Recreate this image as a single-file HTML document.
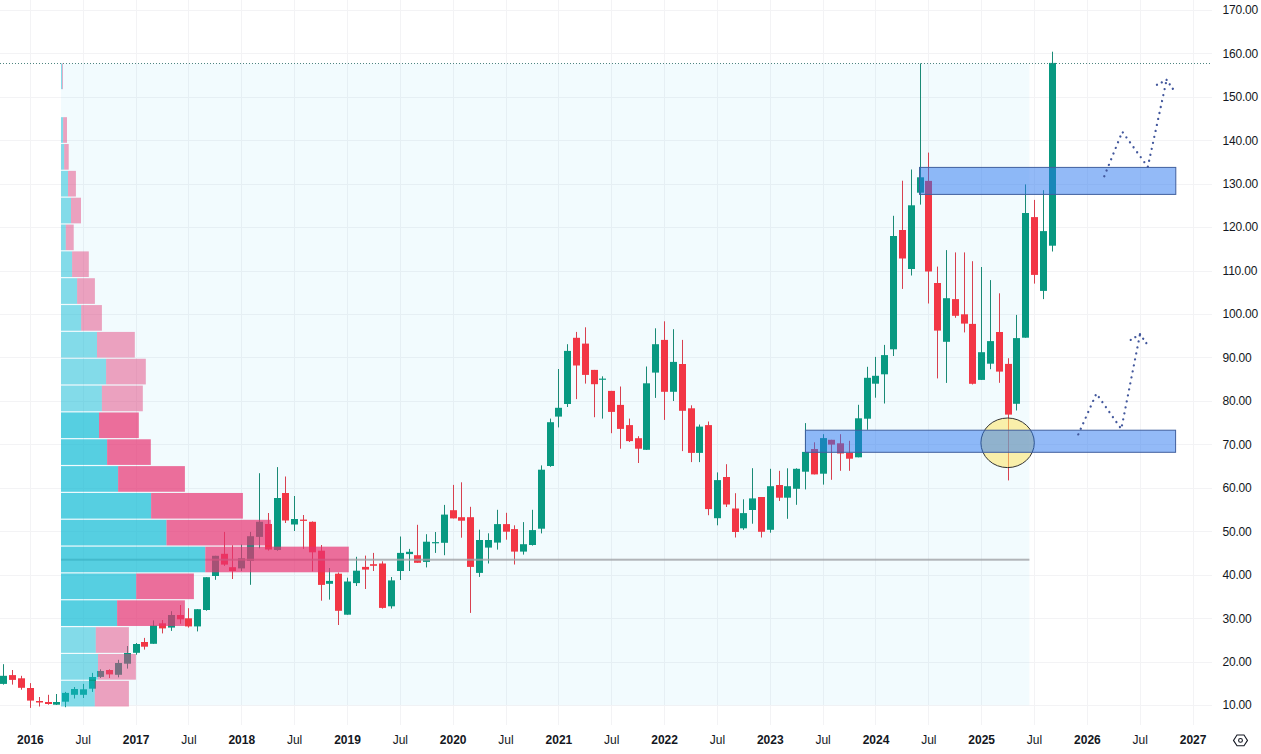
<!DOCTYPE html><html><head><meta charset="utf-8"><style>
html,body{margin:0;padding:0;background:#fff;width:1261px;height:754px;overflow:hidden}
svg{display:block}
text{font-family:"Liberation Sans",sans-serif;fill:#131722}
</style></head><body>
<svg width="1261" height="754" viewBox="0 0 1261 754">
<g stroke="#f3f3f5" stroke-width="1" shape-rendering="crispEdges">
<line x1="0" y1="10.5" x2="1212" y2="10.5"/>
<line x1="0" y1="53.5" x2="1212" y2="53.5"/>
<line x1="0" y1="97.5" x2="1212" y2="97.5"/>
<line x1="0" y1="140.5" x2="1212" y2="140.5"/>
<line x1="0" y1="184.5" x2="1212" y2="184.5"/>
<line x1="0" y1="227.5" x2="1212" y2="227.5"/>
<line x1="0" y1="271.5" x2="1212" y2="271.5"/>
<line x1="0" y1="314.5" x2="1212" y2="314.5"/>
<line x1="0" y1="357.5" x2="1212" y2="357.5"/>
<line x1="0" y1="401.5" x2="1212" y2="401.5"/>
<line x1="0" y1="444.5" x2="1212" y2="444.5"/>
<line x1="0" y1="488.5" x2="1212" y2="488.5"/>
<line x1="0" y1="531.5" x2="1212" y2="531.5"/>
<line x1="0" y1="575.5" x2="1212" y2="575.5"/>
<line x1="0" y1="618.5" x2="1212" y2="618.5"/>
<line x1="0" y1="662.5" x2="1212" y2="662.5"/>
<line x1="0" y1="705.5" x2="1212" y2="705.5"/>
<line x1="30.5" y1="0" x2="30.5" y2="725"/>
<line x1="83.5" y1="0" x2="83.5" y2="725"/>
<line x1="136.5" y1="0" x2="136.5" y2="725"/>
<line x1="188.5" y1="0" x2="188.5" y2="725"/>
<line x1="241.5" y1="0" x2="241.5" y2="725"/>
<line x1="294.5" y1="0" x2="294.5" y2="725"/>
<line x1="347.5" y1="0" x2="347.5" y2="725"/>
<line x1="400.5" y1="0" x2="400.5" y2="725"/>
<line x1="453.5" y1="0" x2="453.5" y2="725"/>
<line x1="506.5" y1="0" x2="506.5" y2="725"/>
<line x1="558.5" y1="0" x2="558.5" y2="725"/>
<line x1="611.5" y1="0" x2="611.5" y2="725"/>
<line x1="664.5" y1="0" x2="664.5" y2="725"/>
<line x1="717.5" y1="0" x2="717.5" y2="725"/>
<line x1="770.5" y1="0" x2="770.5" y2="725"/>
<line x1="823.5" y1="0" x2="823.5" y2="725"/>
<line x1="875.5" y1="0" x2="875.5" y2="725"/>
<line x1="928.5" y1="0" x2="928.5" y2="725"/>
<line x1="981.5" y1="0" x2="981.5" y2="725"/>
<line x1="1034.5" y1="0" x2="1034.5" y2="725"/>
<line x1="1087.5" y1="0" x2="1087.5" y2="725"/>
<line x1="1140.5" y1="0" x2="1140.5" y2="725"/>
<line x1="1193.5" y1="0" x2="1193.5" y2="725"/>
</g>
<rect x="61.0" y="63.5" width="968.4" height="641.8" fill="rgba(0,170,230,0.05)"/>
<g>
<rect x="3" y="664.2" width="1" height="20.4" fill="#1a8a76"/>
<rect x="0" y="675.8" width="7" height="8.1" fill="#089981"/>
<rect x="12" y="670.0" width="1" height="14.6" fill="#d8404f"/>
<rect x="9" y="675.1" width="7" height="4.8" fill="#f23645"/>
<rect x="21" y="675.8" width="1" height="13.9" fill="#d8404f"/>
<rect x="18" y="678.3" width="7" height="9.5" fill="#f23645"/>
<rect x="30" y="683.1" width="1" height="24.8" fill="#d8404f"/>
<rect x="27" y="688.0" width="7" height="12.6" fill="#f23645"/>
<rect x="39" y="697.0" width="1" height="9.5" fill="#d8404f"/>
<rect x="36" y="701.0" width="7" height="1.5" fill="#f23645"/>
<rect x="48" y="694.8" width="1" height="9.9" fill="#d8404f"/>
<rect x="45" y="702.0" width="7" height="2.0" fill="#f23645"/>
<rect x="56" y="694.0" width="1" height="11.0" fill="#1a8a76"/>
<rect x="53" y="702.0" width="7" height="2.7" fill="#089981"/>
<rect x="65" y="691.9" width="1" height="15.3" fill="#1a8a76"/>
<rect x="62" y="692.9" width="7" height="8.8" fill="#089981"/>
<rect x="74" y="687.0" width="1" height="11.5" fill="#1a8a76"/>
<rect x="71" y="689.0" width="7" height="5.8" fill="#089981"/>
<rect x="83" y="683.9" width="1" height="14.1" fill="#1a8a76"/>
<rect x="80" y="689.3" width="7" height="5.5" fill="#089981"/>
<rect x="92" y="672.9" width="1" height="19.0" fill="#1a8a76"/>
<rect x="89" y="677.0" width="7" height="11.7" fill="#089981"/>
<rect x="100" y="669.3" width="1" height="8.7" fill="#1a8a76"/>
<rect x="97" y="671.0" width="7" height="5.9" fill="#089981"/>
<rect x="109" y="669.3" width="1" height="8.7" fill="#d8404f"/>
<rect x="106" y="670.0" width="7" height="4.4" fill="#f23645"/>
<rect x="118" y="659.8" width="1" height="17.5" fill="#1a8a76"/>
<rect x="115" y="663.0" width="7" height="11.8" fill="#089981"/>
<rect x="127" y="646.0" width="1" height="22.6" fill="#1a8a76"/>
<rect x="124" y="653.0" width="7" height="10.7" fill="#089981"/>
<rect x="136" y="643.0" width="1" height="11.7" fill="#1a8a76"/>
<rect x="133" y="644.0" width="7" height="8.8" fill="#089981"/>
<rect x="144" y="637.9" width="1" height="11.7" fill="#d8404f"/>
<rect x="141" y="642.0" width="7" height="4.7" fill="#f23645"/>
<rect x="153" y="620.4" width="1" height="23.4" fill="#1a8a76"/>
<rect x="150" y="625.5" width="7" height="18.3" fill="#089981"/>
<rect x="162" y="620.0" width="1" height="13.4" fill="#d8404f"/>
<rect x="159" y="623.3" width="7" height="5.1" fill="#f23645"/>
<rect x="171" y="611.2" width="1" height="19.7" fill="#1a8a76"/>
<rect x="168" y="615.0" width="7" height="12.6" fill="#089981"/>
<rect x="180" y="605.0" width="1" height="18.8" fill="#d8404f"/>
<rect x="177" y="615.0" width="7" height="4.3" fill="#f23645"/>
<rect x="188" y="608.2" width="1" height="19.4" fill="#d8404f"/>
<rect x="185" y="618.3" width="7" height="8.1" fill="#f23645"/>
<rect x="197" y="609.2" width="1" height="22.2" fill="#1a8a76"/>
<rect x="194" y="609.2" width="7" height="17.2" fill="#089981"/>
<rect x="206" y="577.2" width="1" height="33.5" fill="#1a8a76"/>
<rect x="203" y="577.2" width="7" height="32.8" fill="#089981"/>
<rect x="215" y="555.8" width="1" height="24.0" fill="#1a8a76"/>
<rect x="212" y="555.8" width="7" height="20.2" fill="#089981"/>
<rect x="224" y="531.9" width="1" height="34.0" fill="#d8404f"/>
<rect x="221" y="553.8" width="7" height="10.8" fill="#f23645"/>
<rect x="232" y="545.2" width="1" height="33.8" fill="#d8404f"/>
<rect x="229" y="567.2" width="7" height="3.8" fill="#f23645"/>
<rect x="241" y="544.5" width="1" height="26.5" fill="#1a8a76"/>
<rect x="238" y="558.3" width="7" height="10.1" fill="#089981"/>
<rect x="250" y="531.9" width="1" height="52.9" fill="#1a8a76"/>
<rect x="247" y="536.2" width="7" height="24.7" fill="#089981"/>
<rect x="259" y="473.2" width="1" height="75.1" fill="#1a8a76"/>
<rect x="256" y="521.8" width="7" height="15.1" fill="#089981"/>
<rect x="268" y="513.0" width="1" height="37.6" fill="#d8404f"/>
<rect x="265" y="524.0" width="7" height="25.5" fill="#f23645"/>
<rect x="277" y="467.1" width="1" height="83.7" fill="#1a8a76"/>
<rect x="274" y="498.0" width="7" height="52.0" fill="#089981"/>
<rect x="285" y="476.5" width="1" height="46.5" fill="#d8404f"/>
<rect x="282" y="493.0" width="7" height="27.5" fill="#f23645"/>
<rect x="294" y="496.0" width="1" height="35.0" fill="#1a8a76"/>
<rect x="291" y="519.0" width="7" height="5.5" fill="#089981"/>
<rect x="303" y="515.0" width="1" height="33.9" fill="#d8404f"/>
<rect x="300" y="519.6" width="7" height="1.3" fill="#f23645"/>
<rect x="312" y="521.4" width="1" height="50.0" fill="#d8404f"/>
<rect x="309" y="521.8" width="7" height="30.5" fill="#f23645"/>
<rect x="321" y="545.0" width="1" height="55.7" fill="#d8404f"/>
<rect x="318" y="550.7" width="7" height="34.2" fill="#f23645"/>
<rect x="329" y="568.0" width="1" height="31.6" fill="#1a8a76"/>
<rect x="326" y="580.9" width="7" height="2.9" fill="#089981"/>
<rect x="338" y="572.5" width="1" height="52.5" fill="#d8404f"/>
<rect x="335" y="573.7" width="7" height="37.1" fill="#f23645"/>
<rect x="347" y="577.7" width="1" height="37.0" fill="#1a8a76"/>
<rect x="344" y="581.5" width="7" height="33.2" fill="#089981"/>
<rect x="356" y="556.8" width="1" height="29.2" fill="#1a8a76"/>
<rect x="353" y="570.7" width="7" height="12.4" fill="#089981"/>
<rect x="365" y="555.6" width="1" height="33.4" fill="#d8404f"/>
<rect x="362" y="566.9" width="7" height="2.7" fill="#f23645"/>
<rect x="373" y="552.9" width="1" height="18.1" fill="#d8404f"/>
<rect x="370" y="564.2" width="7" height="1.6" fill="#f23645"/>
<rect x="382" y="561.3" width="1" height="47.3" fill="#d8404f"/>
<rect x="379" y="563.5" width="7" height="44.4" fill="#f23645"/>
<rect x="391" y="577.0" width="1" height="31.6" fill="#1a8a76"/>
<rect x="388" y="580.4" width="7" height="25.9" fill="#089981"/>
<rect x="400" y="536.5" width="1" height="43.5" fill="#1a8a76"/>
<rect x="397" y="552.9" width="7" height="18.1" fill="#089981"/>
<rect x="409" y="548.9" width="1" height="22.1" fill="#1a8a76"/>
<rect x="406" y="551.8" width="7" height="2.3" fill="#089981"/>
<rect x="417" y="524.8" width="1" height="38.0" fill="#d8404f"/>
<rect x="414" y="555.2" width="7" height="7.6" fill="#f23645"/>
<rect x="426" y="534.2" width="1" height="33.2" fill="#1a8a76"/>
<rect x="423" y="541.7" width="7" height="20.2" fill="#089981"/>
<rect x="435" y="532.0" width="1" height="20.9" fill="#1a8a76"/>
<rect x="432" y="542.1" width="7" height="1.2" fill="#089981"/>
<rect x="444" y="504.9" width="1" height="50.3" fill="#1a8a76"/>
<rect x="441" y="514.6" width="7" height="28.2" fill="#089981"/>
<rect x="453" y="484.9" width="1" height="33.5" fill="#d8404f"/>
<rect x="450" y="510.2" width="7" height="8.2" fill="#f23645"/>
<rect x="461" y="482.3" width="1" height="55.4" fill="#d8404f"/>
<rect x="458" y="517.2" width="7" height="3.5" fill="#f23645"/>
<rect x="470" y="506.8" width="1" height="106.1" fill="#d8404f"/>
<rect x="467" y="517.2" width="7" height="49.7" fill="#f23645"/>
<rect x="479" y="529.7" width="1" height="47.2" fill="#1a8a76"/>
<rect x="476" y="540.0" width="7" height="32.9" fill="#089981"/>
<rect x="488" y="533.3" width="1" height="30.2" fill="#1a8a76"/>
<rect x="485" y="540.0" width="7" height="7.6" fill="#089981"/>
<rect x="497" y="509.8" width="1" height="39.8" fill="#1a8a76"/>
<rect x="494" y="524.1" width="7" height="18.5" fill="#089981"/>
<rect x="506" y="512.8" width="1" height="26.9" fill="#d8404f"/>
<rect x="503" y="524.1" width="7" height="7.6" fill="#f23645"/>
<rect x="514" y="525.3" width="1" height="39.2" fill="#d8404f"/>
<rect x="511" y="529.1" width="7" height="22.5" fill="#f23645"/>
<rect x="523" y="522.1" width="1" height="32.5" fill="#1a8a76"/>
<rect x="520" y="544.2" width="7" height="7.4" fill="#089981"/>
<rect x="532" y="509.8" width="1" height="35.8" fill="#1a8a76"/>
<rect x="529" y="530.1" width="7" height="14.9" fill="#089981"/>
<rect x="541" y="465.4" width="1" height="68.0" fill="#1a8a76"/>
<rect x="538" y="469.7" width="7" height="59.0" fill="#089981"/>
<rect x="550" y="418.6" width="1" height="48.2" fill="#1a8a76"/>
<rect x="547" y="422.2" width="7" height="43.8" fill="#089981"/>
<rect x="558" y="369.0" width="1" height="58.4" fill="#1a8a76"/>
<rect x="555" y="407.8" width="7" height="8.8" fill="#089981"/>
<rect x="567" y="344.2" width="1" height="62.8" fill="#1a8a76"/>
<rect x="564" y="350.9" width="7" height="53.1" fill="#089981"/>
<rect x="576" y="331.9" width="1" height="67.2" fill="#d8404f"/>
<rect x="573" y="337.8" width="7" height="27.7" fill="#f23645"/>
<rect x="585" y="327.3" width="1" height="56.3" fill="#d8404f"/>
<rect x="582" y="343.6" width="7" height="31.3" fill="#f23645"/>
<rect x="594" y="369.9" width="1" height="47.3" fill="#d8404f"/>
<rect x="591" y="369.9" width="7" height="14.3" fill="#f23645"/>
<rect x="602" y="376.3" width="1" height="42.3" fill="#1a8a76"/>
<rect x="599" y="378.6" width="7" height="1.2" fill="#089981"/>
<rect x="611" y="390.9" width="1" height="42.3" fill="#d8404f"/>
<rect x="608" y="390.9" width="7" height="21.0" fill="#f23645"/>
<rect x="620" y="386.5" width="1" height="62.2" fill="#d8404f"/>
<rect x="617" y="404.9" width="7" height="24.0" fill="#f23645"/>
<rect x="629" y="418.6" width="1" height="23.4" fill="#d8404f"/>
<rect x="626" y="425.1" width="7" height="16.0" fill="#f23645"/>
<rect x="638" y="436.2" width="1" height="26.8" fill="#d8404f"/>
<rect x="635" y="438.2" width="7" height="10.5" fill="#f23645"/>
<rect x="646" y="366.5" width="1" height="83.4" fill="#1a8a76"/>
<rect x="643" y="383.3" width="7" height="66.5" fill="#089981"/>
<rect x="655" y="328.3" width="1" height="69.6" fill="#1a8a76"/>
<rect x="652" y="344.2" width="7" height="28.4" fill="#089981"/>
<rect x="664" y="321.3" width="1" height="98.6" fill="#d8404f"/>
<rect x="661" y="339.9" width="7" height="51.9" fill="#f23645"/>
<rect x="673" y="329.2" width="1" height="71.8" fill="#1a8a76"/>
<rect x="670" y="361.9" width="7" height="29.9" fill="#089981"/>
<rect x="682" y="339.9" width="1" height="111.2" fill="#d8404f"/>
<rect x="679" y="364.0" width="7" height="46.8" fill="#f23645"/>
<rect x="691" y="405.3" width="1" height="56.8" fill="#d8404f"/>
<rect x="688" y="408.3" width="7" height="44.6" fill="#f23645"/>
<rect x="699" y="424.5" width="1" height="37.6" fill="#1a8a76"/>
<rect x="696" y="426.6" width="7" height="26.3" fill="#089981"/>
<rect x="708" y="421.5" width="1" height="93.7" fill="#d8404f"/>
<rect x="705" y="425.1" width="7" height="84.0" fill="#f23645"/>
<rect x="717" y="472.4" width="1" height="52.9" fill="#1a8a76"/>
<rect x="714" y="480.1" width="7" height="38.1" fill="#089981"/>
<rect x="726" y="464.2" width="1" height="42.8" fill="#d8404f"/>
<rect x="723" y="477.0" width="7" height="27.5" fill="#f23645"/>
<rect x="735" y="493.2" width="1" height="44.3" fill="#d8404f"/>
<rect x="732" y="508.5" width="7" height="23.5" fill="#f23645"/>
<rect x="743" y="499.3" width="1" height="30.5" fill="#1a8a76"/>
<rect x="740" y="513.1" width="7" height="15.2" fill="#089981"/>
<rect x="752" y="468.2" width="1" height="55.5" fill="#1a8a76"/>
<rect x="749" y="498.4" width="7" height="11.6" fill="#089981"/>
<rect x="761" y="497.0" width="1" height="40.5" fill="#d8404f"/>
<rect x="758" y="497.0" width="7" height="34.8" fill="#f23645"/>
<rect x="770" y="468.8" width="1" height="63.9" fill="#1a8a76"/>
<rect x="767" y="486.2" width="7" height="43.6" fill="#089981"/>
<rect x="779" y="470.8" width="1" height="30.2" fill="#d8404f"/>
<rect x="776" y="485.0" width="7" height="12.7" fill="#f23645"/>
<rect x="787" y="468.3" width="1" height="50.5" fill="#1a8a76"/>
<rect x="784" y="486.2" width="7" height="11.5" fill="#089981"/>
<rect x="796" y="468.3" width="1" height="36.5" fill="#1a8a76"/>
<rect x="793" y="468.8" width="7" height="20.0" fill="#089981"/>
<rect x="805" y="423.1" width="1" height="66.3" fill="#1a8a76"/>
<rect x="802" y="451.9" width="7" height="19.8" fill="#089981"/>
<rect x="814" y="442.3" width="1" height="32.1" fill="#d8404f"/>
<rect x="811" y="449.0" width="7" height="25.4" fill="#f23645"/>
<rect x="823" y="434.2" width="1" height="50.4" fill="#1a8a76"/>
<rect x="820" y="438.1" width="7" height="35.6" fill="#089981"/>
<rect x="831" y="439.8" width="1" height="40.0" fill="#d8404f"/>
<rect x="828" y="439.8" width="7" height="4.8" fill="#f23645"/>
<rect x="840" y="434.2" width="1" height="36.6" fill="#d8404f"/>
<rect x="837" y="443.3" width="7" height="10.2" fill="#f23645"/>
<rect x="849" y="440.8" width="1" height="30.0" fill="#d8404f"/>
<rect x="846" y="452.9" width="7" height="5.8" fill="#f23645"/>
<rect x="858" y="404.8" width="1" height="52.5" fill="#1a8a76"/>
<rect x="855" y="418.3" width="7" height="39.0" fill="#089981"/>
<rect x="867" y="366.8" width="1" height="63.0" fill="#1a8a76"/>
<rect x="864" y="377.8" width="7" height="40.9" fill="#089981"/>
<rect x="875" y="356.9" width="1" height="40.8" fill="#1a8a76"/>
<rect x="872" y="375.8" width="7" height="7.9" fill="#089981"/>
<rect x="884" y="344.9" width="1" height="58.6" fill="#1a8a76"/>
<rect x="881" y="355.1" width="7" height="19.2" fill="#089981"/>
<rect x="893" y="215.8" width="1" height="140.2" fill="#1a8a76"/>
<rect x="890" y="236.0" width="7" height="113.3" fill="#089981"/>
<rect x="902" y="180.7" width="1" height="108.2" fill="#d8404f"/>
<rect x="899" y="230.0" width="7" height="28.5" fill="#f23645"/>
<rect x="911" y="169.5" width="1" height="106.0" fill="#1a8a76"/>
<rect x="908" y="205.3" width="7" height="63.7" fill="#089981"/>
<rect x="920" y="63.4" width="1" height="141.2" fill="#1a8a76"/>
<rect x="917" y="177.3" width="7" height="15.4" fill="#089981"/>
<rect x="928" y="152.6" width="1" height="150.9" fill="#d8404f"/>
<rect x="925" y="180.9" width="7" height="90.6" fill="#f23645"/>
<rect x="937" y="266.6" width="1" height="111.8" fill="#d8404f"/>
<rect x="934" y="283.0" width="7" height="47.6" fill="#f23645"/>
<rect x="946" y="250.1" width="1" height="132.8" fill="#1a8a76"/>
<rect x="943" y="298.2" width="7" height="43.6" fill="#089981"/>
<rect x="955" y="252.4" width="1" height="65.4" fill="#d8404f"/>
<rect x="952" y="299.1" width="7" height="16.7" fill="#f23645"/>
<rect x="964" y="252.4" width="1" height="80.0" fill="#d8404f"/>
<rect x="961" y="314.3" width="7" height="9.3" fill="#f23645"/>
<rect x="972" y="261.2" width="1" height="123.3" fill="#d8404f"/>
<rect x="969" y="323.9" width="7" height="59.9" fill="#f23645"/>
<rect x="981" y="267.0" width="1" height="113.0" fill="#1a8a76"/>
<rect x="978" y="352.2" width="7" height="27.7" fill="#089981"/>
<rect x="990" y="280.1" width="1" height="89.1" fill="#1a8a76"/>
<rect x="987" y="341.1" width="7" height="22.6" fill="#089981"/>
<rect x="999" y="293.3" width="1" height="89.5" fill="#d8404f"/>
<rect x="996" y="332.0" width="7" height="39.6" fill="#f23645"/>
<rect x="1008" y="358.2" width="1" height="122.2" fill="#d8404f"/>
<rect x="1005" y="363.9" width="7" height="50.7" fill="#f23645"/>
<rect x="1016" y="314.9" width="1" height="95.6" fill="#1a8a76"/>
<rect x="1013" y="338.1" width="7" height="65.7" fill="#089981"/>
<rect x="1025" y="184.4" width="1" height="153.3" fill="#1a8a76"/>
<rect x="1022" y="213.0" width="7" height="124.7" fill="#089981"/>
<rect x="1034" y="199.9" width="1" height="83.7" fill="#d8404f"/>
<rect x="1031" y="217.1" width="7" height="57.8" fill="#f23645"/>
<rect x="1043" y="190.2" width="1" height="108.9" fill="#1a8a76"/>
<rect x="1040" y="231.1" width="7" height="59.8" fill="#089981"/>
<rect x="1052" y="51.7" width="1" height="199.8" fill="#1a8a76"/>
<rect x="1049" y="62.9" width="7" height="182.8" fill="#089981"/>
</g>
<rect x="61.0" y="558.7" width="968.4" height="2" fill="rgba(160,162,166,0.8)"/>
<g>
<rect x="61.0" y="63.50" width="1.20" height="25.64" fill="rgba(20,188,212,0.5)"/>
<rect x="62.20" y="63.50" width="0.80" height="25.64" fill="rgba(228,72,128,0.5)"/>
<rect x="61.0" y="117.18" width="2.20" height="25.64" fill="rgba(20,188,212,0.5)"/>
<rect x="63.20" y="117.18" width="3.80" height="25.64" fill="rgba(228,72,128,0.5)"/>
<rect x="61.0" y="144.03" width="3.20" height="25.64" fill="rgba(20,188,212,0.5)"/>
<rect x="64.20" y="144.03" width="4.50" height="25.64" fill="rgba(228,72,128,0.5)"/>
<rect x="61.0" y="170.87" width="7.00" height="25.64" fill="rgba(20,188,212,0.5)"/>
<rect x="68.00" y="170.87" width="7.90" height="25.64" fill="rgba(228,72,128,0.5)"/>
<rect x="61.0" y="197.71" width="10.00" height="25.64" fill="rgba(20,188,212,0.5)"/>
<rect x="71.00" y="197.71" width="10.00" height="25.64" fill="rgba(228,72,128,0.5)"/>
<rect x="61.0" y="224.55" width="4.80" height="25.64" fill="rgba(20,188,212,0.5)"/>
<rect x="65.80" y="224.55" width="7.90" height="25.64" fill="rgba(228,72,128,0.5)"/>
<rect x="61.0" y="251.39" width="11.10" height="25.64" fill="rgba(20,188,212,0.5)"/>
<rect x="72.10" y="251.39" width="16.70" height="25.64" fill="rgba(228,72,128,0.5)"/>
<rect x="61.0" y="278.23" width="16.10" height="25.64" fill="rgba(20,188,212,0.5)"/>
<rect x="77.10" y="278.23" width="17.80" height="25.64" fill="rgba(228,72,128,0.5)"/>
<rect x="61.0" y="305.08" width="20.20" height="25.64" fill="rgba(20,188,212,0.5)"/>
<rect x="81.20" y="305.08" width="20.70" height="25.64" fill="rgba(228,72,128,0.5)"/>
<rect x="61.0" y="331.92" width="36.00" height="25.64" fill="rgba(20,188,212,0.5)"/>
<rect x="97.00" y="331.92" width="37.80" height="25.64" fill="rgba(228,72,128,0.5)"/>
<rect x="61.0" y="358.76" width="45.10" height="25.64" fill="rgba(20,188,212,0.5)"/>
<rect x="106.10" y="358.76" width="39.70" height="25.64" fill="rgba(228,72,128,0.5)"/>
<rect x="61.0" y="385.60" width="40.90" height="25.64" fill="rgba(20,188,212,0.5)"/>
<rect x="101.90" y="385.60" width="40.90" height="25.64" fill="rgba(228,72,128,0.5)"/>
<rect x="61.0" y="412.44" width="38.00" height="25.64" fill="rgba(20,188,212,0.7)"/>
<rect x="99.00" y="412.44" width="39.80" height="25.64" fill="rgba(232,50,113,0.7)"/>
<rect x="61.0" y="439.28" width="46.10" height="25.64" fill="rgba(20,188,212,0.7)"/>
<rect x="107.10" y="439.28" width="43.70" height="25.64" fill="rgba(232,50,113,0.7)"/>
<rect x="61.0" y="466.12" width="57.10" height="25.64" fill="rgba(20,188,212,0.7)"/>
<rect x="118.10" y="466.12" width="66.80" height="25.64" fill="rgba(232,50,113,0.7)"/>
<rect x="61.0" y="492.97" width="90.10" height="25.64" fill="rgba(20,188,212,0.7)"/>
<rect x="151.10" y="492.97" width="91.80" height="25.64" fill="rgba(232,50,113,0.7)"/>
<rect x="61.0" y="519.81" width="105.50" height="25.64" fill="rgba(20,188,212,0.7)"/>
<rect x="166.50" y="519.81" width="104.30" height="25.64" fill="rgba(232,50,113,0.7)"/>
<rect x="61.0" y="546.65" width="144.30" height="25.64" fill="rgba(20,188,212,0.7)"/>
<rect x="205.30" y="546.65" width="143.50" height="25.64" fill="rgba(232,50,113,0.7)"/>
<rect x="61.0" y="573.49" width="75.20" height="25.64" fill="rgba(20,188,212,0.7)"/>
<rect x="136.20" y="573.49" width="57.70" height="25.64" fill="rgba(232,50,113,0.7)"/>
<rect x="61.0" y="600.33" width="56.10" height="25.64" fill="rgba(20,188,212,0.7)"/>
<rect x="117.10" y="600.33" width="67.80" height="25.64" fill="rgba(232,50,113,0.7)"/>
<rect x="61.0" y="627.18" width="34.80" height="25.64" fill="rgba(20,188,212,0.5)"/>
<rect x="95.80" y="627.18" width="33.10" height="25.64" fill="rgba(228,72,128,0.5)"/>
<rect x="61.0" y="654.02" width="37.00" height="25.64" fill="rgba(20,188,212,0.5)"/>
<rect x="98.00" y="654.02" width="37.90" height="25.64" fill="rgba(228,72,128,0.5)"/>
<rect x="61.0" y="680.86" width="33.80" height="25.64" fill="rgba(20,188,212,0.5)"/>
<rect x="94.80" y="680.86" width="34.10" height="25.64" fill="rgba(228,72,128,0.5)"/>
</g>
<ellipse cx="1007.6" cy="442.8" rx="26.7" ry="24.8" fill="rgba(255,230,100,0.55)" stroke="#333" stroke-width="1"/>
<rect x="805.4" y="430.2" width="370.2" height="22.1" fill="rgba(40,118,240,0.5)" stroke="#41609e" stroke-width="1"/>
<rect x="919.5" y="167.4" width="256.3" height="27.0" fill="rgba(40,118,240,0.5)" stroke="#41609e" stroke-width="1"/>
<path d="M1104.3,176.2 L1122.3,131.7 L1147.8,166.9 L1166.6,79.9" fill="none" stroke="#42579c" stroke-width="2.3" stroke-dasharray="0.01 6.1" stroke-linecap="round"/><path d="M1166.6,79.9 L1156.6,85.0 M1166.6,79.9 L1173.7,90.0" fill="none" stroke="#42579c" stroke-width="2.3" stroke-dasharray="0.01 5.4" stroke-linecap="round"/>
<path d="M1078.3,434.4 L1096.4,393.6 L1121.3,429.0 L1140.0,334.3" fill="none" stroke="#42579c" stroke-width="2.3" stroke-dasharray="0.01 6.1" stroke-linecap="round"/><path d="M1140.0,334.3 L1130.7,339.9 M1140.0,334.3 L1148.0,345.4" fill="none" stroke="#42579c" stroke-width="2.3" stroke-dasharray="0.01 5.4" stroke-linecap="round"/>
<line x1="0" y1="63.5" x2="1211" y2="63.5" stroke="#4f8580" stroke-width="1" stroke-dasharray="1 2"/>
<text x="1222.6" y="14.1" font-size="12" letter-spacing="-0.22">170.00</text>
<text x="1222.6" y="57.6" font-size="12" letter-spacing="-0.22">160.00</text>
<text x="1222.6" y="101.0" font-size="12" letter-spacing="-0.22">150.00</text>
<text x="1222.6" y="144.5" font-size="12" letter-spacing="-0.22">140.00</text>
<text x="1222.6" y="188.0" font-size="12" letter-spacing="-0.22">130.00</text>
<text x="1222.6" y="231.4" font-size="12" letter-spacing="-0.22">120.00</text>
<text x="1222.6" y="274.9" font-size="12" letter-spacing="-0.22">110.00</text>
<text x="1222.6" y="318.3" font-size="12" letter-spacing="-0.22">100.00</text>
<text x="1222.6" y="361.8" font-size="12" letter-spacing="-0.22">90.00</text>
<text x="1222.6" y="405.2" font-size="12" letter-spacing="-0.22">80.00</text>
<text x="1222.6" y="448.7" font-size="12" letter-spacing="-0.22">70.00</text>
<text x="1222.6" y="492.1" font-size="12" letter-spacing="-0.22">60.00</text>
<text x="1222.6" y="535.6" font-size="12" letter-spacing="-0.22">50.00</text>
<text x="1222.6" y="579.0" font-size="12" letter-spacing="-0.22">40.00</text>
<text x="1222.6" y="622.5" font-size="12" letter-spacing="-0.22">30.00</text>
<text x="1222.6" y="665.9" font-size="12" letter-spacing="-0.22">20.00</text>
<text x="1222.6" y="709.4" font-size="12" letter-spacing="-0.22">10.00</text>
<text x="30.4" y="744" font-size="12" font-weight="bold" text-anchor="middle">2016</text>
<text x="83.2" y="744" font-size="12" text-anchor="middle">Jul</text>
<text x="136.1" y="744" font-size="12" font-weight="bold" text-anchor="middle">2017</text>
<text x="188.9" y="744" font-size="12" text-anchor="middle">Jul</text>
<text x="241.8" y="744" font-size="12" font-weight="bold" text-anchor="middle">2018</text>
<text x="294.6" y="744" font-size="12" text-anchor="middle">Jul</text>
<text x="347.5" y="744" font-size="12" font-weight="bold" text-anchor="middle">2019</text>
<text x="400.3" y="744" font-size="12" text-anchor="middle">Jul</text>
<text x="453.2" y="744" font-size="12" font-weight="bold" text-anchor="middle">2020</text>
<text x="506.0" y="744" font-size="12" text-anchor="middle">Jul</text>
<text x="558.9" y="744" font-size="12" font-weight="bold" text-anchor="middle">2021</text>
<text x="611.7" y="744" font-size="12" text-anchor="middle">Jul</text>
<text x="664.6" y="744" font-size="12" font-weight="bold" text-anchor="middle">2022</text>
<text x="717.4" y="744" font-size="12" text-anchor="middle">Jul</text>
<text x="770.3" y="744" font-size="12" font-weight="bold" text-anchor="middle">2023</text>
<text x="823.1" y="744" font-size="12" text-anchor="middle">Jul</text>
<text x="876.0" y="744" font-size="12" font-weight="bold" text-anchor="middle">2024</text>
<text x="928.8" y="744" font-size="12" text-anchor="middle">Jul</text>
<text x="981.7" y="744" font-size="12" font-weight="bold" text-anchor="middle">2025</text>
<text x="1034.5" y="744" font-size="12" text-anchor="middle">Jul</text>
<text x="1087.4" y="744" font-size="12" font-weight="bold" text-anchor="middle">2026</text>
<text x="1140.2" y="744" font-size="12" text-anchor="middle">Jul</text>
<text x="1193.1" y="744" font-size="12" font-weight="bold" text-anchor="middle">2027</text>
<polygon points="1247.50,740.40 1244.00,745.77 1237.00,745.77 1233.50,740.40 1237.00,735.03 1244.00,735.03" fill="none" stroke="#131722" stroke-width="1.1"/>
<circle cx="1240.5" cy="740.4" r="1.9" fill="none" stroke="#131722" stroke-width="1.1"/>
</svg></body></html>
